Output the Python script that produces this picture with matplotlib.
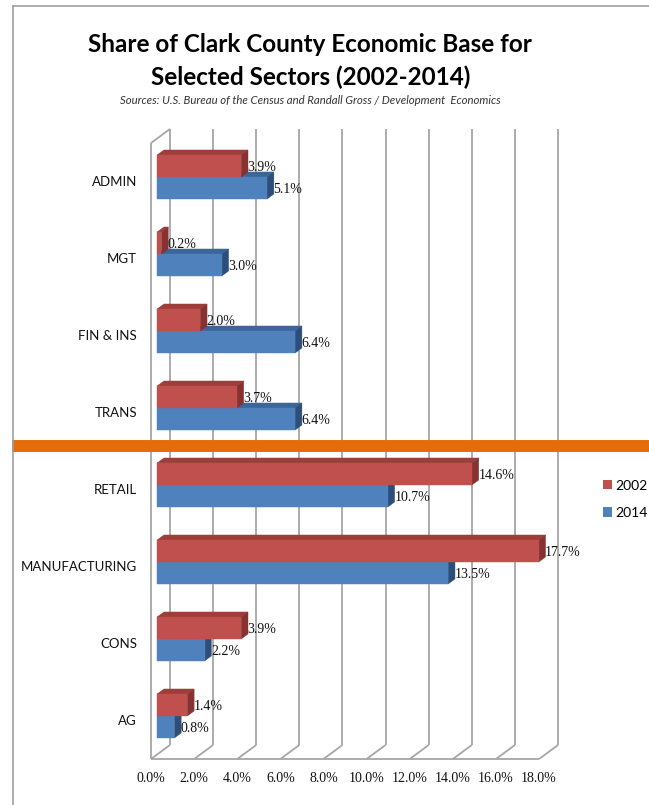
import matplotlib.pyplot as plt
from matplotlib.patches import Polygon, Patch
from matplotlib.lines import Line2D

# data
sectors = ['ADMIN', 'MGT', 'FIN & INS', 'TRANS', 'RETAIL', 'MANUFACTURING', 'CONS', 'AG']
share_2002 = [3.9, 0.2, 2.0, 3.7, 14.6, 17.7, 3.9, 1.4]
share_2014 = [5.1, 3.0, 6.4, 6.4, 10.7, 13.5, 2.2, 0.8]
tick_vals = [0, 2, 4, 6, 8, 10, 12, 14, 16, 18]

# colours
RED = ('#C0504D', '#9E3D3A', '#863230')     # front, top, side
BLUE = ('#4F81BD', '#3C6699', '#2C4E79')
GRID = '#A6A6A6'
ORANGE = '#E46C0A'

# pseudo 3d geometry (x in %, y in rows, z = depth 0..1)
SX = 21.56          # px per %
SY = 77.0           # px per row
DX = 19 / SX        # depth shift in x
DY = 14 / SY        # depth shift in y
Z0, Z1 = 0.32, 0.68 # bar front / back
BH = 22 / SY        # bar thickness
TOP = 8.0


def P(v, y, z):
    return (v + z * DX, y + z * DY)


fig = plt.figure(figsize=(6.49, 8.05), dpi=100)
ax = fig.add_axes([0, 0, 1, 1])
ax.set_xlim(-151 / SX, (649 - 151) / SX)
ax.set_ylim((759 - 805) / SY, 759 / SY)
ax.axis('off')

# walls and floor
gl = dict(color=GRID, lw=1.3, zorder=1, solid_capstyle='butt')
for v in tick_vals:
    (x0, y0), (x1, y1) = P(v, 0, 0), P(v, 0, 1)
    ax.plot([x0, x1], [y0, y1], **gl)
    (xa, ya), (xb, yb) = P(v, 0, 1), P(v, TOP, 1)
    ax.plot([xa, xb], [ya, yb], **gl)
(xa, ya), (xb, yb) = P(0, 0, 0), P(18, 0, 0)
ax.plot([xa, xb], [ya, yb], **gl)
(xa, ya), (xb, yb) = P(0, 0, 0), P(0, TOP, 0)
ax.plot([xa, xb], [ya, yb], **gl)
(xa, ya), (xb, yb) = P(0, TOP, 0), P(0, TOP, 1)
ax.plot([xa, xb], [ya, yb], **gl)


def bar3d(v, y0, cols, z):
    front = [P(0, y0, Z0), P(v, y0, Z0), P(v, y0 + BH, Z0), P(0, y0 + BH, Z0)]
    top = [P(0, y0 + BH, Z0), P(v, y0 + BH, Z0), P(v, y0 + BH, Z1), P(0, y0 + BH, Z1)]
    side = [P(v, y0, Z0), P(v, y0 + BH, Z0), P(v, y0 + BH, Z1), P(v, y0, Z1)]
    for pts, c in ((top, cols[1]), (side, cols[2]), (front, cols[0])):
        ax.add_patch(Polygon(pts, closed=True, facecolor=c, edgecolor=c, lw=0.3, zorder=z))


lab = dict(fontsize=10, family='Liberation Serif', va='center', ha='left', color='#111111', zorder=6)
n = len(sectors)
for i, name in enumerate(sectors):
    yc = n - 1 - i + 0.5
    bar3d(share_2014[i], yc - BH, BLUE, 3)
    bar3d(share_2002[i], yc, RED, 4)
    # value labels
    x, y = P(share_2002[i], yc + BH / 2, Z0)
    ax.text(x + 0.3, y - 0.02, f'{share_2002[i]:.1f}%', **lab)
    x, y = P(share_2014[i], yc - BH / 2, Z0)
    ax.text(x + 0.3, y - 0.02, f'{share_2014[i]:.1f}%', **lab)
    # category labels
    ax.text(-0.65, yc, name, ha='right', va='center', fontsize=9.5,
            family='Lato', color='#111111')

for v in tick_vals:
    ax.text(v, -0.25, f'{v:.1f}%', ha='center', va='center', fontsize=10,
            family='Liberation Serif', color='#111111')

# orange divider between the top four and bottom four sectors
ax.plot([-139 / SX, 30], [4.065, 4.065], color=ORANGE, lw=8.6,
        solid_capstyle='butt', zorder=5)

# titles
fig.text(0.478, 1 - 45 / 805, 'Share of Clark County Economic Base for',
         ha='center', va='center', fontsize=17.5, fontweight='bold', family='Lato')
fig.text(0.479, 1 - 77 / 805, 'Selected Sectors (2002-2014)',
         ha='center', va='center', fontsize=17.5, fontweight='bold', family='Lato')
fig.text(0.478, 1 - 101 / 805,
         'Sources: U.S. Bureau of the Census and Randall Gross / Development  Economics',
         ha='center', va='center', fontsize=8.2, style='italic', family='Lato',
         color='#333333')

# legend
handles = [Patch(facecolor=RED[0], edgecolor='none', label='2002'),
           Patch(facecolor=BLUE[0], edgecolor='none', label='2014')]
fig.legend(handles=handles, loc='upper left', bbox_to_anchor=(597 / 649, 1 - 474 / 805),
           frameon=False, handlelength=0.65, handleheight=0.65, handletextpad=0.3,
           labelspacing=1.1, borderaxespad=0.0, prop={'family': 'Lato', 'size': 10})

# outer frame
fig.add_artist(Line2D([13 / 649, 1], [1 - 6 / 805, 1 - 6 / 805], color='#A0A0A0', lw=1.2,
                      transform=fig.transFigure))
fig.add_artist(Line2D([13 / 649, 13 / 649], [0, 1 - 6 / 805], color='#A0A0A0', lw=1.2,
                      transform=fig.transFigure))

fig.savefig('out.png', dpi=100)
